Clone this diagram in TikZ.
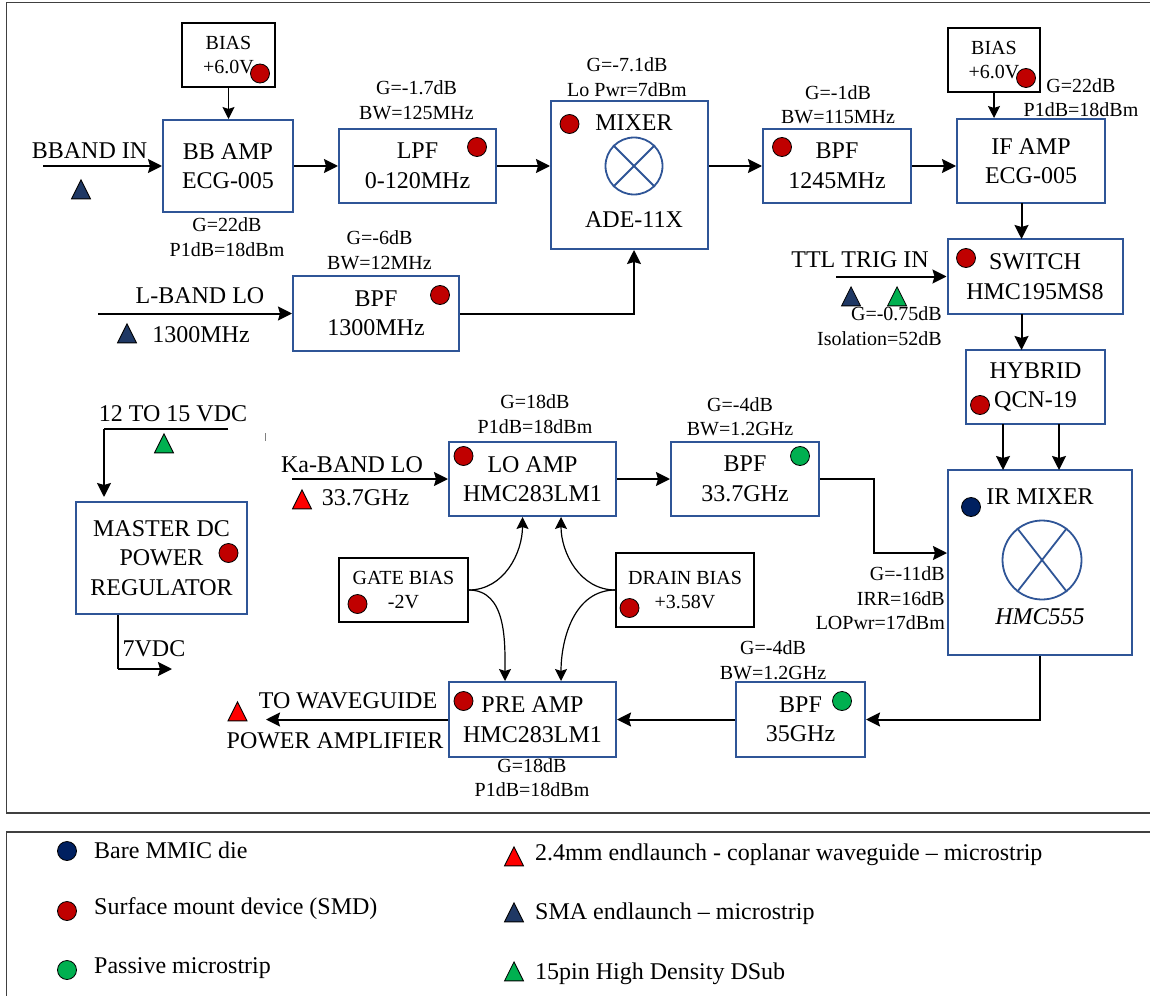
\documentclass[tikz,border=0pt]{standalone}
\usepackage{fontspec}
\setmainfont{Liberation Serif}
\usetikzlibrary{calc,arrows.meta,shapes.geometric}

\definecolor{boxblue}{HTML}{2F5597}
\definecolor{smdred}{HTML}{C00000}
\definecolor{dienavy}{HTML}{002060}
\definecolor{passgreen}{HTML}{00B050}
\definecolor{smanavy}{HTML}{1F3864}

\tikzset{
	bigtext/.style={font=\fontsize{24}{29.5}\selectfont, align=center, inner sep=0pt},
	smalltext/.style={font=\fontsize{20}{24.5}\selectfont, align=center, inner sep=0pt},
	righttext/.style={font=\fontsize{20}{24.5}\selectfont, align=right, inner sep=0pt, anchor=east},
	legendtext/.style={font=\fontsize{24}{29}\selectfont, inner sep=0pt, anchor=west},
	block/.style={draw=boxblue, line width=2pt, fill=white, bigtext},
	biasbox/.style={draw=black, line width=1.3pt, fill=white, smalltext},
	frameline/.style={draw=black!75, line width=1.3pt},
	wire/.style={line width=2pt, -{Stealth[length=14pt,width=14pt,inset=2pt]}},
	thinwire/.style={line width=1.2pt, -{Stealth[length=12pt,width=12pt,inset=2pt]}},
	dot/.style={draw=black, circle, line width=0.8pt, inner sep=0pt, minimum size=19pt},
	tri/.style={draw=black, line width=0.8pt, isosceles triangle, isosceles triangle apex angle=55, isosceles triangle stretches, shape border rotate=90, inner sep=0pt, minimum width=19pt, minimum height=19pt, anchor=apex},
	mixsym/.style={draw=boxblue, line width=1.8pt, circle, inner sep=0pt}
}

\begin{document}
\begin{tikzpicture}[x=1pt,y=-1pt]
	\useasboundingbox (0,0) rectangle (1150,995);
	\path[frameline] (1153,2.5) -- (6.5,2.5) -- (6.5,813) -- (1153,813);
	\path[frameline] (1153,832) -- (6.5,832) -- (6.5,998);
	\draw[black!50, line width=0.8pt] (265,433) -- (265,441);

	\node[biasbox, minimum width=93pt, minimum height=64pt] (bias1) at (228.5,55) {BIAS\\+6.0V};
	\node[block, minimum width=130pt, minimum height=92pt] (bbamp) at (228,166) {BB AMP\\ECG-005};
	\node[block, minimum width=157pt, minimum height=74pt] (lpf) at (417.5,166) {LPF\\0-120MHz};
	\node[block, minimum width=157pt, minimum height=148pt] (mixer) at (629.5,175) {};
	\node[block, minimum width=148pt, minimum height=74pt] (bpfif) at (837,166) {BPF\\1245MHz};
	\node[block, minimum width=148pt, minimum height=84pt] (ifamp) at (1031,161) {IF AMP\\ECG-005};
	\node[biasbox, minimum width=92pt, minimum height=64pt] (bias2) at (994,60) {BIAS\\+6.0V};
	\node[block, minimum width=175pt, minimum height=75pt] (switch) at (1035,276.5) {SWITCH\\HMC195MS8};
	\node[block, minimum width=139pt, minimum height=74pt] (hybrid) at (1035.5,387) {HYBRID\\QCN-19};
	\node[block, minimum width=166pt, minimum height=75pt] (bpflo) at (376,313.5) {BPF\\1300MHz};
	\node[block, minimum width=184pt, minimum height=185pt] (irmixer) at (1040,562.5) {};
	\node[block, minimum width=148pt, minimum height=74pt] (bpfka) at (745,479) {BPF\\33.7GHz};
	\node[block, minimum width=167pt, minimum height=74pt] (loamp) at (532.5,479) {LO AMP\\HMC283LM1};
	\node[block, minimum width=167pt, minimum height=75pt] (preamp) at (532.5,719.5) {PRE AMP\\HMC283LM1};
	\node[block, minimum width=129pt, minimum height=75pt] (bpfrf) at (800.5,719.5) {BPF\\35GHz};
	\node[block, minimum width=171pt, minimum height=112pt] (master) at (161.5,558) {MASTER DC\\POWER\\REGULATOR};
	\node[biasbox, minimum width=129pt, minimum height=64pt] (gate) at (403.5,590) {GATE BIAS\\-2V};
	\node[biasbox, minimum width=138pt, minimum height=74pt] (drain) at (685,590) {DRAIN BIAS\\+3.58V};

	\node[bigtext] (mixname) at (634,123) {MIXER};
	\node[bigtext] (mixpart) at (634,220) {ADE-11X};
	\node[mixsym, minimum size=57pt] (mixcross) at (634,166) {};
	\draw[boxblue, line width=1.8pt] (mixcross.135) -- (mixcross.-45);
	\draw[boxblue, line width=1.8pt] (mixcross.45) -- (mixcross.-135);
	\node[bigtext] (irname) at (1040,497) {IR MIXER};
	\node[bigtext, font=\fontsize{24}{29}\selectfont\itshape] (irpart) at (1040,617) {HMC555};
	\node[mixsym, minimum size=79pt] (ircross) at (1042,560) {};
	\draw[boxblue, line width=1.8pt] (ircross.128) -- (ircross.-52);
	\draw[boxblue, line width=1.8pt] (ircross.52) -- (ircross.-128);

	\node[smalltext] (lpfnote) at (416.5,100) {G=-1.7dB\\BW=125MHz};
	\node[smalltext] (bbnote) at (227,237) {G=22dB\\P1dB=18dBm};
	\node[smalltext] (bpflonote) at (379.5,250) {G=-6dB\\BW=12MHz};
	\node[smalltext] (mixnote) at (627,77) {G=-7.1dB\\Lo Pwr=7dBm};
	\node[smalltext] (bpfifnote) at (838,104.5) {G=-1dB\\BW=115MHz};
	\node[smalltext] (ifnote) at (1081,97.5) {G=22dB\\P1dB=18dBm};
	\node[righttext] (switchnote) at (942,326) {G=-0.75dB\\Isolation=52dB};
	\node[smalltext] (lonote) at (535,414) {G=18dB\\P1dB=18dBm};
	\node[smalltext] (bpfkanote) at (740,416.5) {G=-4dB\\BW=1.2GHz};
	\node[righttext] (irnote) at (945,598.5) {G=-11dB\\IRR=16dB\\LOPwr=17dBm};
	\node[smalltext] (bpfrfnote) at (773,660) {G=-4dB\\BW=1.2GHz};
	\node[smalltext] (prenote) at (532,777.5) {G=18dB\\P1dB=18dBm};

	\node[bigtext] (bbandin) at (89.5,151) {BBAND IN};
	\node[bigtext] (lbandlo) at (200,296) {L-BAND LO};
	\node[bigtext] (lfreq) at (201,335) {1300MHz};
	\node[bigtext] (ttlin) at (860,260) {TTL TRIG IN};
	\node[bigtext] (kabandlo) at (352,465) {Ka-BAND LO};
	\node[bigtext] (kafreq) at (365.5,498) {33.7GHz};
	\node[bigtext] (dcinput) at (173,414) {12 TO 15 VDC};
	\node[bigtext] (dcout) at (154,649) {7VDC};
	\node[bigtext] (towg) at (348,701) {TO WAVEGUIDE};
	\node[bigtext] (topa) at (335,741) {POWER AMPLIFIER};

	\coordinate (bbstart) at (43,166);
	\coordinate (lstart) at (98,313.5);
	\coordinate (ttlstart) at (836,276.5);
	\coordinate (kastart) at (292,479);
	\coordinate (dcstart) at (228,429);
	\coordinate (dccorner) at (104,429);
	\coordinate (dcend) at (104,497);
	\coordinate (outcorner) at (118,669);
	\coordinate (outend) at (172,669);
	\coordinate (wgend) at (266,719.5);
	\coordinate (kacorner) at (874,479);
	\coordinate (kamid) at (874,553);
	\coordinate (ircorner) at (1040,719.5);

	\draw[wire] (bbstart) -- (bbamp.west);
	\draw[wire] (bbamp.east) -- (lpf.west);
	\draw[wire] (lpf.east) -- (lpf.east -| mixer.west);
	\draw[wire] (mixer.east |- bpfif.west) -- (bpfif.west);
	\draw[wire] (bpfif.east) -- (bpfif.east -| ifamp.west);
	\draw[thinwire] (bias1.south) -- (bias1.south |- bbamp.north);
	\draw[thinwire] (bias2.south) -- (bias2.south |- ifamp.north);
	\draw[wire] (1021.5,203) -- (1021.5,239);
	\draw[wire] (1021.5,314) -- (1021.5,350);
	\draw[wire] (ttlstart) -- (switch.west);
	\draw[wire] (lstart) -- (bpflo.west);
	\draw[wire] (bpflo.east) -| (mixcross.south |- mixer.south);
	\draw[wire] (1003,424) -- (1003,470);
	\draw[wire] (1059,424) -- (1059,470);
	\draw[wire] (bpfka.east) -- (kacorner) -- (kamid) -- (kamid -| irmixer.west);
	\draw[wire] (irmixer.south) -- (ircorner) -- (bpfrf.east);
	\draw[wire] (bpfrf.west) -- (preamp.east);
	\draw[wire] (preamp.west) -- (wgend);
	\draw[wire] (loamp.east) -- (bpfka.west);
	\draw[wire] (kastart) -- (loamp.west);
	\draw[line width=1.2pt] (dcstart) -- (dccorner);
	\draw[wire] (dccorner) -- (dcend);
	\draw[line width=1.2pt] (outcorner |- master.south) -- (outcorner);
	\draw[wire] (outcorner) -- (outend);
	\draw[thinwire] (gate.east) to[out=0,in=-90] ($(loamp.south)+(-10,0)$);
	\draw[thinwire] (gate.east) to[out=0,in=90] ($(preamp.north)+(-27.5,0)$);
	\draw[thinwire] (drain.west) to[out=180,in=-90] ($(loamp.south)+(28.5,0)$);
	\draw[thinwire] (drain.west) to[out=180,in=90] ($(preamp.north)+(28.5,0)$);

	\node[dot, fill=smdred] (dbias1) at (260,73.5) {};
	\node[dot, fill=smdred] (dlpf) at (477,147) {};
	\node[dot, fill=smdred] (dmixer) at (569.5,124) {};
	\node[dot, fill=smdred] (dbpflo) at (440,295) {};
	\node[dot, fill=smdred] (dbpfif) at (782,147) {};
	\node[dot, fill=smdred] (dbias2) at (1026,78) {};
	\node[dot, fill=smdred] (dswitch) at (966,258) {};
	\node[dot, fill=smdred] (dhybrid) at (980,405) {};
	\node[dot, fill=dienavy] (dir) at (971,507) {};
	\node[dot, fill=passgreen] (dbpfka) at (800,456) {};
	\node[dot, fill=passgreen] (dbpfrf) at (842,701) {};
	\node[dot, fill=smdred] (dlo) at (463.5,456) {};
	\node[dot, fill=smdred] (dpre) at (463.5,701) {};
	\node[dot, fill=smdred] (dmaster) at (228.5,553) {};
	\node[dot, fill=smdred] (dgate) at (357.5,604) {};
	\node[dot, fill=smdred] (ddrain) at (629.5,608) {};

	\node[tri, fill=smanavy] (tbband) at (81,179) {};
	\node[tri, fill=smanavy] (tlband) at (127,323) {};
	\node[tri, fill=smanavy] (tttl) at (851,286) {};
	\node[tri, fill=passgreen] (tttlb) at (897,286) {};
	\node[tri, fill=passgreen] (tdc) at (164,433) {};
	\node[tri, fill=red] (tka) at (302,489) {};
	\node[tri, fill=red] (twg) at (237.5,701) {};

	\node[dot, fill=dienavy] (keydie) at (67,851) {};
	\node[dot, fill=smdred] (keysmd) at (67,911) {};
	\node[dot, fill=passgreen] (keypass) at (67,970) {};
	\node[legendtext] (keydietext) at (94,850) {Bare MMIC die};
	\node[legendtext] (keysmdtext) at (94,909) {Surface mount device (SMD)};
	\node[legendtext] (keypasstext) at (94,968) {Passive microstrip};
	\node[tri, fill=red] (keyka) at (514,846) {};
	\node[tri, fill=smanavy] (keysma) at (514,902) {};
	\node[tri, fill=passgreen] (keydsub) at (514,961) {};
	\node[legendtext] (keykatext) at (535,855) {2.4mm endlaunch - coplanar waveguide – microstrip};
	\node[legendtext] (keysmatext) at (535,914) {SMA endlaunch – microstrip};
	\node[legendtext] (keydsubtext) at (535,974) {15pin High Density DSub};
\end{tikzpicture}
\end{document}
